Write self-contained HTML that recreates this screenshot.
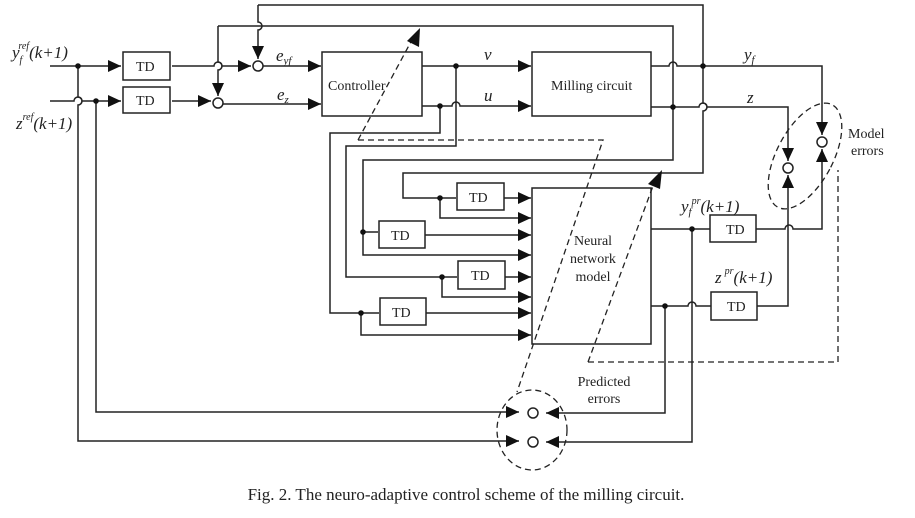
<!DOCTYPE html>
<html><head><meta charset="utf-8"><style>
html,body{margin:0;padding:0;background:#fff;}
svg{display:block;}
text{font-family:"Liberation Serif",serif;fill:#222;}
</style></head><body>
<svg width="915" height="518" viewBox="0 0 915 518" xmlns="http://www.w3.org/2000/svg">
<defs>
<marker id="a" markerUnits="userSpaceOnUse" markerWidth="14" markerHeight="12" refX="13" refY="6" orient="auto">
<path d="M0,0 L13,6 L0,12 z" fill="#111"/></marker>
</defs>
<g stroke="#222" stroke-width="1.5" fill="none">
<path d="M50,66 H121" marker-end="url(#a)"/>
<path d="M50,101 H74 a4,4 0 0 1 8,0 H121" marker-end="url(#a)"/>
<rect x="123" y="52" width="47" height="28"/>
<rect x="123" y="87" width="47" height="26"/>
<path d="M78,66 V97 a4,4 0 0 1 0,8 V441 H519" marker-end="url(#a)"/>
<path d="M96,101 V412 H519" marker-end="url(#a)"/>
<path d="M172,66 H214 a4,4 0 0 1 8,0 H251" marker-end="url(#a)"/>
<path d="M172,101 H211" marker-end="url(#a)"/>
<circle cx="258" cy="66" r="5"/>
<circle cx="218" cy="103" r="5"/>
<path d="M218,26 V62 a4,4 0 0 1 0,8 V96" marker-end="url(#a)"/>
<path d="M258,5 V22 a4,4 0 0 1 0,8 V59" marker-end="url(#a)"/>
<path d="M218,26 H673 V160 H363 V232 H378"/>
<path d="M258,5 H703 V103 a4,4 0 0 1 0,8 V173 H403 V198 H456"/>
<path d="M263,66 H321" marker-end="url(#a)"/>
<path d="M223,104 H321" marker-end="url(#a)"/>
<rect x="322" y="52" width="100" height="64"/>
<rect x="532" y="52" width="119" height="64"/>
<path d="M422,66 H531" marker-end="url(#a)"/>
<path d="M422,106 H452 a4,4 0 0 1 8,0 H531" marker-end="url(#a)"/>
<path d="M440,106 V133 H330 V313 H379"/>
<path d="M456,66 V146 H346 V277 H457"/>
<path d="M651,66 H669 a4,4 0 0 1 8,0 H822 V135" marker-end="url(#a)"/>
<path d="M651,107 H699 a4,4 0 0 1 8,0 H788 V161" marker-end="url(#a)"/>
<circle cx="822" cy="142" r="5"/>
<circle cx="788" cy="168" r="5"/>
<rect x="457" y="183" width="47" height="27"/>
<path d="M504,198 H531" marker-end="url(#a)"/>
<path d="M440,198 V218 H531" marker-end="url(#a)"/>
<rect x="379" y="221" width="46" height="27"/>
<path d="M425,235 H531" marker-end="url(#a)"/>
<path d="M363,232 V255 H531" marker-end="url(#a)"/>
<rect x="458" y="261" width="47" height="28"/>
<path d="M505,277 H531" marker-end="url(#a)"/>
<path d="M442,277 V297 H531" marker-end="url(#a)"/>
<rect x="380" y="298" width="46" height="27"/>
<path d="M426,313 H531" marker-end="url(#a)"/>
<path d="M361,313 V335 H531" marker-end="url(#a)"/>
<rect x="532" y="188" width="119" height="156"/>
<path d="M651,229 H710"/>
<rect x="710" y="215" width="46" height="27"/>
<path d="M756,229 H785 a4,4 0 0 1 8,0 H822 V149" marker-end="url(#a)"/>
<path d="M651,306 H688 a4,4 0 0 1 8,0 H711"/>
<rect x="711" y="292" width="46" height="28"/>
<path d="M757,306 H788 V175" marker-end="url(#a)"/>
<path d="M692,229 V442 H546" marker-end="url(#a)"/>
<path d="M665,306 V413 H546" marker-end="url(#a)"/>
<circle cx="533" cy="413" r="5"/>
<circle cx="533" cy="442" r="5"/>
</g>
<g fill="#111">
<circle cx="78" cy="66" r="2.8"/><circle cx="96" cy="101" r="2.8"/>
<circle cx="456" cy="66" r="2.8"/><circle cx="440" cy="106" r="2.8"/>
<circle cx="703" cy="66" r="2.8"/><circle cx="673" cy="107" r="2.8"/>
<circle cx="440" cy="198" r="2.8"/><circle cx="363" cy="232" r="2.8"/>
<circle cx="442" cy="277" r="2.8"/><circle cx="361" cy="313" r="2.8"/>
<circle cx="692" cy="229" r="2.8"/><circle cx="665" cy="306" r="2.8"/>
</g>
<g stroke="#222" stroke-width="1.3" fill="none" stroke-dasharray="6,4">
<path d="M358,140 L413,38"/>
<path d="M358,140 H603 L517,392"/>
<path d="M588,362 H838 V170"/>
<path d="M588,362 L653,186"/>
<ellipse cx="532" cy="430" rx="35" ry="40"/>
<ellipse cx="805" cy="156" rx="28" ry="58" transform="rotate(28 805 156)"/>
</g>
<polygon points="420,28 419,47 407,41" fill="#111"/>
<polygon points="662,170 660,189 648,184" fill="#111"/>
<g font-size="14">
<text x="136" y="71">TD</text><text x="136" y="105">TD</text>
<text x="469" y="202">TD</text><text x="391" y="240">TD</text>
<text x="471" y="280">TD</text><text x="392" y="317">TD</text>
<text x="726" y="234">TD</text><text x="727" y="311">TD</text>
<text x="328" y="90">Controller</text>
<text x="551" y="90">Milling circuit</text>
<text x="593" y="245" text-anchor="middle">Neural</text>
<text x="593" y="263" text-anchor="middle">network</text>
<text x="593" y="281" text-anchor="middle">model</text>
<text x="848" y="138">Model</text>
<text x="851" y="155">errors</text>
<text x="604" y="386" text-anchor="middle">Predicted</text>
<text x="604" y="403" text-anchor="middle">errors</text>
</g>
<g font-size="17" font-style="italic">
<text x="12" y="58">y<tspan font-size="10" dy="5">f</tspan><tspan font-size="10" dy="-14" dx="-4">ref</tspan><tspan dy="9">(k+1)</tspan></text>
<text x="16" y="129">z<tspan font-size="10" dy="-9">ref</tspan><tspan dy="9">(k+1)</tspan></text>
<text x="276" y="61">e<tspan font-size="11" dy="3">yf</tspan></text>
<text x="277" y="100">e<tspan font-size="11" dy="3">z</tspan></text>
<text x="484" y="60">v</text>
<text x="484" y="101">u</text>
<text x="744" y="60">y<tspan font-size="11" dy="3">f</tspan></text>
<text x="747" y="103">z</text>
<text x="681" y="212">y<tspan font-size="11" dy="3">f</tspan><tspan font-size="10" dy="-11">pr</tspan><tspan dy="8">(k+1)</tspan></text>
<text x="715" y="283">z<tspan font-size="10" dy="-9" dx="3">pr</tspan><tspan dy="9">(k+1)</tspan></text>
</g>
<text x="466" y="500" font-size="17" text-anchor="middle">Fig.  2. The neuro-adaptive control scheme of the milling circuit.</text>
</svg>
</body></html>
